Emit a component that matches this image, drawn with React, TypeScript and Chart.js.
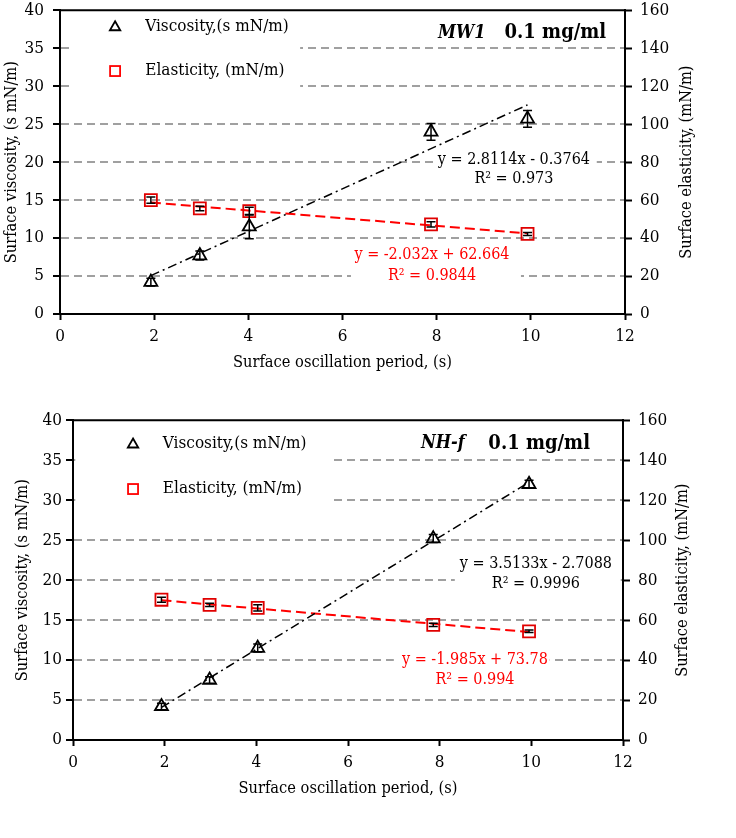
import { useEffect, useRef } from "react";
import { Chart, registerables } from "chart.js";

Chart.register(...registerables);

const FONT = '"DejaVu Serif Condensed", "Liberation Serif", serif';
const X_TITLE = "Surface oscillation period, (s)";
const Y_TITLE = "Surface viscosity, (s mN/m)";
const Y2_TITLE = "Surface elasticity, (mN/m)";
const VISC_LABEL = "Viscosity,(s mN/m)";
const ELAS_LABEL = "Elasticity, (mN/m)";

// top panel: MW1
const mw1Period = [1.93, 2.97, 4.02, 7.88, 9.93];
const mw1Visc = [4.2, 7.7, 11.5, 24.0, 25.7];
const mw1ViscErr = [0.5, 0.6, 1.6, 1.1, 1.1];
const mw1Elas = [60.0, 55.6, 54.2, 47.2, 42.2];
const mw1ElasErr = [1.6, 1.2, 2.0, 1.4, 0.8];
const mw1TrendX = [1.93, 9.93];
const mw1ViscTrend = [5.05, 27.54];
const mw1ElasTrend = [58.74, 42.49];
const mw1ViscEq = ["y = 2.8114x - 0.3764", "R² = 0.973"];
const mw1ElasEq = ["y = -2.032x + 62.664", "R² = 0.9844"];

// bottom panel: NH-f
const nhPeriod = [1.93, 2.98, 4.03, 7.86, 9.95];
const nhVisc = [4.2, 7.5, 11.5, 25.2, 32.0];
const nhViscErr = [0.4, 0.4, 0.5, 0.5, 0.5];
const nhElas = [70.2, 67.6, 66.1, 57.6, 54.4];
const nhElasErr = [1.2, 0.8, 1.6, 0.8, 0.6];
const nhTrendX = [1.93, 9.95];
const nhViscTrend = [4.07, 32.25];
const nhElasTrend = [69.95, 54.03];
const nhViscEq = ["y = 3.5133x - 2.7088", "R² = 0.9996"];
const nhElasEq = ["y = -1.985x + 73.78", "R² = 0.994"];

// axes: min, max, step
const xRange = [0, 12, 2];
const yRange = [0, 40, 5];
const y2Range = [0, 160, 20];

const RED = "#ff0000";
const GRID = "#a0a0a0";

type Box = { x0: number; x1: number; y0: number; y1: number };

interface Panel {
  name: string;
  conc: string;
  height: number;
  area: { left: number; right: number; top: number; bottom: number };
  period: number[];
  visc: number[];
  viscErr: number[];
  elas: number[];
  elasErr: number[];
  trendX: number[];
  viscTrend: number[];
  elasTrend: number[];
  viscEq: string[];
  elasEq: string[];
  // annotation placement, in left-axis data units
  legend: { x: number; tx: number; y1: number; y2: number };
  title: { x0: number; x1: number; y: number };
  viscEqPos: { x: number; y1: number; y2: number };
  elasEqPos: { x: number; y1: number; y2: number };
  boxes: Box[];
  yTitlePad: number;
  yTickPad: number;
  xTitlePad: number;
  y2TitleOffset: number;
}

const panels: Panel[] = [
  {
    name: "MW1",
    conc: "0.1 mg/ml",
    height: 410,
    area: { left: 60, right: 625, top: 9, bottom: 314 },
    period: mw1Period,
    visc: mw1Visc,
    viscErr: mw1ViscErr,
    elas: mw1Elas,
    elasErr: mw1ElasErr,
    trendX: mw1TrendX,
    viscTrend: mw1ViscTrend,
    elasTrend: mw1ElasTrend,
    viscEq: mw1ViscEq,
    elasEq: mw1ElasEq,
    legend: { x: 1.17, tx: 1.81, y1: 37.9, y2: 32.0 },
    title: { x0: 8.03, x1: 11.6, y: 37.0 },
    viscEqPos: { x: 9.64, y1: 20.33, y2: 17.84 },
    elasEqPos: { x: 7.9, y1: 7.74, y2: 4.98 },
    boxes: [
      { x0: 0.28, x1: 5.1, y0: 28.7, y1: 39.9 },
      { x0: 7.97, x1: 11.4, y0: 16.5, y1: 21.8 },
      { x0: 6.18, x1: 9.79, y0: 3.54, y1: 9.05 },
    ],
    yTitlePad: 2,
    yTickPad: 9,
    xTitlePad: 37,
    y2TitleOffset: 62,
  },
  {
    name: "NH-f",
    conc: "0.1 mg/ml",
    height: 428,
    area: { left: 73, right: 623, top: 10, bottom: 330 },
    period: nhPeriod,
    visc: nhVisc,
    viscErr: nhViscErr,
    elas: nhElas,
    elasErr: nhElasErr,
    trendX: nhTrendX,
    viscTrend: nhViscTrend,
    elasTrend: nhElasTrend,
    viscEq: nhViscEq,
    elasEq: nhElasEq,
    legend: { x: 1.31, tx: 1.96, y1: 37.1, y2: 31.4 },
    title: { x0: 7.59, x1: 11.28, y: 37.1 },
    viscEqPos: { x: 10.1, y1: 22.1, y2: 19.6 },
    elasEqPos: { x: 8.77, y1: 10.0, y2: 7.5 },
    boxes: [
      { x0: 0.05, x1: 5.6, y0: 28.75, y1: 39.9 },
      { x0: 8.33, x1: 11.95, y0: 18.25, y1: 23.5 },
      { x0: 7.0, x1: 10.4, y0: 6.25, y1: 11.5 },
    ],
    yTitlePad: 13,
    yTickPad: 4,
    xTitlePad: 39,
    y2TitleOffset: 60,
  },
];

function triangle(ctx: CanvasRenderingContext2D, x: number, y: number, r: number) {
  ctx.beginPath();
  ctx.moveTo(x, y - r);
  ctx.lineTo(x + r * 0.866, y + r / 2);
  ctx.lineTo(x - r * 0.866, y + r / 2);
  ctx.closePath();
  ctx.stroke();
}

const overlay = {
  id: "overlay",
  beforeDatasetsDraw(chart: any, _args: any, opts: any) {
    const p: Panel = opts.panel;
    if (!p) return;
    const { ctx } = chart;
    const xs = chart.scales.x;
    const ys = chart.scales.y;
    const px = (v: number) => xs.getPixelForValue(v);
    const py = (v: number) => ys.getPixelForValue(v);
    ctx.save();
    // white backgrounds of the text boxes hide the grid lines
    ctx.fillStyle = "#fff";
    for (const b of p.boxes) {
      ctx.fillRect(px(b.x0), py(b.y1), px(b.x1) - px(b.x0), py(b.y0) - py(b.y1));
    }
    ctx.textBaseline = "middle";
    // legend
    ctx.lineWidth = 1.8;
    ctx.strokeStyle = "#000";
    triangle(ctx, px(p.legend.x), py(p.legend.y1) + 1, 6);
    ctx.strokeStyle = RED;
    ctx.strokeRect(px(p.legend.x) - 5, py(p.legend.y2) - 5, 10, 10);
    ctx.fillStyle = "#000";
    ctx.font = `17px ${FONT}`;
    ctx.textAlign = "left";
    ctx.fillText(VISC_LABEL, px(p.legend.tx), py(p.legend.y1));
    ctx.fillText(ELAS_LABEL, px(p.legend.tx), py(p.legend.y2));
    // panel title
    ctx.font = `italic bold 18px ${FONT}`;
    ctx.fillText(p.name, px(p.title.x0), py(p.title.y));
    ctx.font = `bold 20px ${FONT}`;
    ctx.textAlign = "right";
    ctx.fillText(p.conc, px(p.title.x1), py(p.title.y));
    // trend equations
    ctx.font = `16px ${FONT}`;
    ctx.textAlign = "center";
    ctx.fillText(p.viscEq[0], px(p.viscEqPos.x), py(p.viscEqPos.y1));
    ctx.fillText(p.viscEq[1], px(p.viscEqPos.x), py(p.viscEqPos.y2));
    ctx.fillStyle = RED;
    ctx.fillText(p.elasEq[0], px(p.elasEqPos.x), py(p.elasEqPos.y1));
    ctx.fillText(p.elasEq[1], px(p.elasEqPos.x), py(p.elasEqPos.y2));
    ctx.restore();
  },
  afterDatasetsDraw(chart: any, _args: any, opts: any) {
    const p: Panel = opts.panel;
    if (!p) return;
    const { ctx } = chart;
    const xs = chart.scales.x;
    const bars = [
      { vals: p.visc, err: p.viscErr, scale: chart.scales.y },
      { vals: p.elas, err: p.elasErr, scale: chart.scales.y2 },
    ];
    ctx.save();
    ctx.strokeStyle = "#000";
    ctx.lineWidth = 1.5;
    for (const b of bars) {
      b.vals.forEach((v, i) => {
        const x = xs.getPixelForValue(p.period[i]);
        const y0 = b.scale.getPixelForValue(v - b.err[i]);
        const y1 = b.scale.getPixelForValue(v + b.err[i]);
        ctx.beginPath();
        ctx.moveTo(x, y0);
        ctx.lineTo(x, y1);
        ctx.moveTo(x - 4.5, y0);
        ctx.lineTo(x + 4.5, y0);
        ctx.moveTo(x - 4.5, y1);
        ctx.lineTo(x + 4.5, y1);
        ctx.stroke();
      });
    }
    ctx.restore();
  },
  afterDraw(chart: any, _args: any, opts: any) {
    const p: Panel = opts.panel;
    if (!p) return;
    const { ctx, chartArea } = chart;
    ctx.save();
    ctx.strokeStyle = "#000";
    ctx.lineWidth = 2;
    ctx.beginPath();
    ctx.moveTo(chartArea.left - 1, chartArea.top);
    ctx.lineTo(chartArea.right + 1, chartArea.top);
    ctx.stroke();
    // right axis title, reading bottom to top like the left one
    ctx.translate(chartArea.right + p.y2TitleOffset, (chartArea.top + chartArea.bottom) / 2);
    ctx.rotate(-Math.PI / 2);
    ctx.fillStyle = "#000";
    ctx.font = `16.3px ${FONT}`;
    ctx.textAlign = "center";
    ctx.textBaseline = "middle";
    ctx.fillText(Y2_TITLE, 0, 0);
    ctx.restore();
  },
};

function pts(xs: number[], ys: number[]) {
  return xs.map((x, i) => ({ x, y: ys[i] }));
}

function PanelChart({ p }: { p: Panel }) {
  const canvasRef = useRef<HTMLCanvasElement>(null);
  const chartRef = useRef<Chart | null>(null);

  useEffect(() => {
    if (!canvasRef.current) return;
    chartRef.current?.destroy();

    const tickFont = { family: FONT, size: 17 };
    const titleFont = { family: FONT, size: 16.3 };
    const axisBorder = { color: "#000", width: 2 };
    // vertical axes: fixed width, and no extra room for their end labels
    const fixWidth = (w: number) => (s: any) => {
      s.width = w;
      s.paddingTop = 0;
      s.paddingBottom = 0;
    };

    chartRef.current = new Chart(canvasRef.current, {
      type: "scatter",
      data: {
        datasets: [
          {
            label: VISC_LABEL,
            data: pts(p.period, p.visc),
            yAxisID: "y",
            pointStyle: "triangle",
            pointRadius: 7.5,
            borderColor: "#000",
            backgroundColor: "rgba(255,255,255,0)",
            borderWidth: 1.8,
          },
          {
            label: ELAS_LABEL,
            data: pts(p.period, p.elas),
            yAxisID: "y2",
            pointStyle: "rect",
            pointRadius: 8.5,
            borderColor: "#e00000",
            backgroundColor: "rgba(255,255,255,0)",
            borderWidth: 1.8,
          },
          {
            label: "visc trend",
            data: pts(p.trendX, p.viscTrend),
            yAxisID: "y",
            showLine: true,
            pointRadius: 0,
            borderColor: "#000",
            borderWidth: 1.5,
            borderDash: [9, 4, 2, 4],
          },
          {
            label: "elas trend",
            data: pts(p.trendX, p.elasTrend),
            yAxisID: "y2",
            showLine: true,
            pointRadius: 0,
            borderColor: RED,
            borderWidth: 2,
            borderDash: [10, 5],
          },
        ],
      },
      options: {
        responsive: false,
        animation: false,
        events: [],
        layout: { padding: { top: p.area.top, left: 0, right: 0, bottom: 0 } },
        plugins: {
          legend: { display: false },
          tooltip: { enabled: false },
          overlay: { panel: p },
        } as any,
        scales: {
          x: {
            type: "linear",
            min: xRange[0],
            max: xRange[1],
            ticks: { stepSize: xRange[2], color: "#000", font: tickFont, padding: 6 },
            grid: { drawOnChartArea: false, tickLength: 6, tickColor: "#000", tickWidth: 2 },
            border: axisBorder,
            title: {
              display: true,
              text: X_TITLE,
              color: "#000",
              font: titleFont,
              padding: { top: 0, bottom: p.xTitlePad },
            },
            afterFit: (s: any) => {
              s.height = p.height - p.area.bottom;
            },
          },
          y: {
            type: "linear",
            position: "left",
            min: yRange[0],
            max: yRange[1],
            ticks: { stepSize: yRange[2], color: "#000", font: tickFont, padding: p.yTickPad },
            grid: {
              color: (c: any) =>
                c.tick && (c.tick.value === yRange[0] || c.tick.value === yRange[1]) ? "rgba(0,0,0,0)" : GRID,
              lineWidth: 2,
              tickLength: 7,
              tickColor: "#000",
              tickWidth: 2,
            },
            border: { ...axisBorder, dash: [8, 5] },
            title: {
              display: true,
              text: Y_TITLE,
              color: "#000",
              font: titleFont,
              padding: { top: p.yTitlePad, bottom: 0 },
            },
            afterFit: fixWidth(p.area.left),
          },
          y2: {
            type: "linear",
            position: "right",
            min: y2Range[0],
            max: y2Range[1],
            ticks: { stepSize: y2Range[2], color: "#000", font: tickFont, padding: 8 },
            grid: { drawOnChartArea: false, tickLength: 7, tickColor: "#000", tickWidth: 2 },
            border: axisBorder,
            afterFit: fixWidth(736 - p.area.right),
          },
        },
      } as any,
      plugins: [overlay],
    });

    return () => {
      chartRef.current?.destroy();
      chartRef.current = null;
    };
  }, [p]);

  return <canvas ref={canvasRef} width={736} height={p.height} style={{ display: "block" }} />;
}

export default function App() {
  return (
    <div style={{ position: "absolute", left: 0, top: 0, width: 736, height: 838, background: "#fff" }}>
      {panels.map((p) => (
        <PanelChart key={p.name} p={p} />
      ))}
    </div>
  );
}
